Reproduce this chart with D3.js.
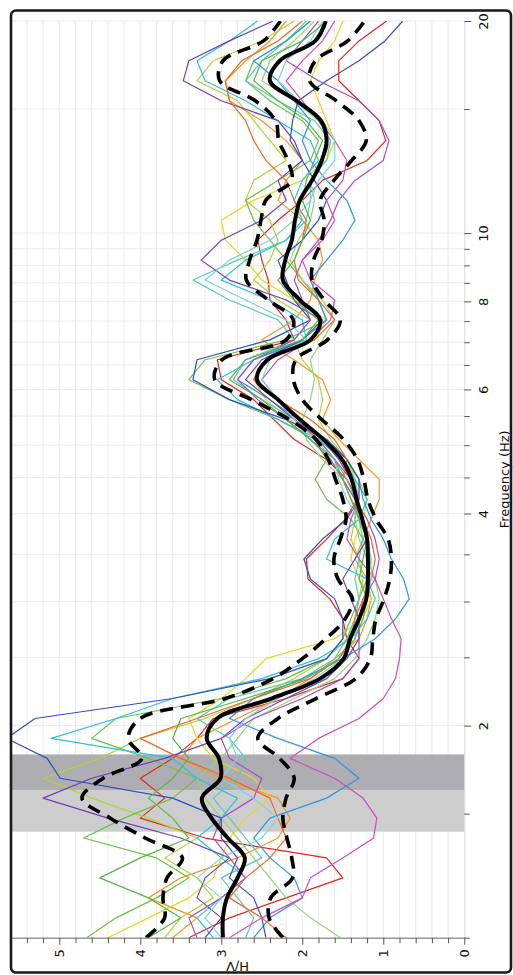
<!DOCTYPE html>
<html><head><meta charset="utf-8">
<script src="https://cdn.jsdelivr.net/npm/d3@7"></script>
<style>html,body{margin:0;padding:0;background:#fff;} svg{display:block;}</style>
</head><body>
<svg id="chart" width="513" height="975"></svg>
<script>
// ---------- DATA ----------
const freqs = [1.000,1.067,1.139,1.216,1.298,1.385,1.478,1.578,1.684,1.797,1.918,2.047,2.185,2.332,2.489,2.656,2.835,3.026,3.229,3.447,3.679,3.926,4.190,4.472,4.773,5.094,5.437,5.803,6.194,6.611,7.055,7.530,8.036,8.577,9.155,9.771,10.43,11.13,11.88,12.68,13.53,14.44,15.41,16.45,17.56,18.74,20.00];
const meanHV  = [2.98,2.98,2.93,2.80,2.71,2.92,3.12,3.24,3.01,3.03,3.18,3.05,2.38,1.78,1.49,1.41,1.30,1.21,1.19,1.19,1.20,1.26,1.33,1.39,1.51,1.74,2.03,2.30,2.56,2.43,1.90,1.78,2.03,2.24,2.21,2.13,2.09,2.03,1.88,1.76,1.70,1.77,2.07,2.40,2.28,1.84,1.71];
const upperHV = [3.93,3.70,3.72,3.67,3.48,3.94,4.37,4.72,4.46,3.98,4.15,4.00,2.95,2.36,2.00,1.71,1.47,1.38,1.56,1.61,1.53,1.46,1.50,1.59,1.68,1.83,2.16,2.63,3.08,2.99,2.20,2.11,2.42,2.69,2.65,2.56,2.51,2.45,2.13,2.18,2.29,2.33,2.58,3.02,2.98,2.48,2.27];
const lowerHV = [2.24,2.41,2.39,2.12,2.13,2.19,2.24,2.20,2.10,2.28,2.55,2.30,1.83,1.34,1.16,1.13,1.09,0.99,0.92,0.90,0.94,1.09,1.19,1.24,1.32,1.49,1.76,2.00,2.11,2.08,1.69,1.53,1.73,1.88,1.86,1.76,1.73,1.78,1.61,1.39,1.21,1.30,1.58,1.91,1.84,1.44,1.23];

const winRed     = [3.4,2.9,2.2,1.5,1.7,3.2,4.0,3.7,4.0,3.6,3.3,3.1,2.2,1.5,1.3,1.45,1.5,1.66,1.93,1.95,1.7,1.47,1.32,1.45,1.7,2.1,2.35,2.6,3.0,3.05,2.1,2.2,2.4,2.42,2.5,2.55,2.3,2.0,1.75,1.2,0.97,1.05,1.3,1.55,1.55,1.3,0.96];
const winOrange  = [3.6,3.3,3.9,3.5,2.8,2.3,2.15,2.3,3.0,3.5,3.3,2.8,2.3,1.9,1.6,1.3,1.2,1.15,1.2,1.35,1.25,1.15,1.05,1.05,1.3,1.55,1.75,1.65,1.75,2.1,2.5,2.1,1.9,1.85,1.75,1.8,2.0,2.3,2.2,2.0,2.2,2.5,2.9,2.95,2.7,2.4,2.2];
const winYellow  = [4.4,3.9,3.4,3.1,3.0,2.9,2.7,2.4,2.6,3.1,3.3,3.4,3.0,2.7,2.45,1.6,1.25,1.15,1.3,1.4,1.35,1.25,1.2,1.3,1.5,1.8,2.15,2.45,2.6,2.45,1.85,1.7,2.1,2.5,2.7,2.95,3.0,2.6,2.0,1.7,1.6,1.7,1.8,1.9,1.8,1.6,1.5];
const winYGreen  = [3.7,3.5,3.1,3.3,3.7,3.3,3.9,4.6,5.2,4.5,4.0,3.2,2.6,2.1,1.7,1.45,1.35,1.3,1.25,1.3,1.4,1.35,1.3,1.35,1.45,1.65,1.8,1.75,1.8,2.0,2.1,1.9,2.3,2.6,2.4,2.3,2.4,2.7,2.6,2.2,2.4,2.6,2.8,3.3,3.1,2.5,2.1];
const winGreen   = [4.66,4.3,3.8,3.4,3.8,4.7,4.2,3.6,3.3,3.9,4.6,4.3,3.0,2.2,1.7,1.5,1.4,1.3,1.2,1.15,1.25,1.4,1.7,1.84,1.7,1.85,2.3,2.9,3.4,3.2,2.2,1.7,1.8,2.0,2.2,2.4,2.6,2.7,2.3,1.9,1.8,2.0,2.4,2.7,2.6,2.2,1.9];
const winLGreen  = [1.53,1.9,2.2,2.4,2.6,2.8,3.0,3.2,3.3,3.0,2.8,2.6,2.1,1.6,1.35,1.2,1.1,1.05,1.1,1.2,1.3,1.35,1.35,1.5,1.75,1.95,2.0,1.9,1.85,1.9,1.75,1.6,1.75,2.0,2.15,2.05,1.9,1.85,1.9,1.75,1.65,1.8,2.1,2.5,2.4,2.1,1.85];
const winTeal    = [2.7,2.6,2.8,3.0,2.5,2.7,2.9,3.1,2.8,2.7,2.9,3.3,2.9,2.0,1.6,1.45,1.35,1.3,1.35,1.3,1.25,1.3,1.35,1.45,1.6,1.8,2.1,2.5,2.85,2.7,2.1,2.3,2.9,3.35,2.8,2.2,1.95,1.9,1.9,1.7,1.65,1.85,2.3,2.7,2.5,2.2,1.95];
const winCyan    = [3.1,3.3,3.0,2.7,3.0,3.3,3.0,2.8,3.3,3.6,5.1,4.3,3.6,2.5,1.8,1.4,1.2,1.1,1.2,1.7,1.6,1.3,1.2,1.35,1.5,1.8,2.3,2.8,3.05,2.6,1.95,2.0,2.4,3.0,2.7,2.2,2.0,2.1,2.0,1.8,1.9,2.3,2.7,3.2,3.3,2.9,2.55];
const winSky     = [2.6,2.4,2.0,2.1,2.4,2.6,2.4,1.7,1.3,1.6,2.3,2.9,2.6,2.0,1.5,1.1,0.85,0.68,0.75,0.9,1.0,1.15,1.25,1.3,1.45,1.7,2.05,2.4,2.8,2.6,2.0,1.7,1.8,1.9,1.7,1.5,1.35,1.45,1.7,1.9,2.0,1.9,2.1,2.3,2.6,2.2,1.9];
const winBlue    = [2.45,2.5,2.6,2.9,2.8,3.0,3.0,3.6,4.99,5.15,5.65,5.3,3.6,2.4,1.7,1.5,1.5,1.6,1.9,1.98,1.75,1.45,1.3,1.3,1.45,1.7,2.2,2.9,3.35,3.3,2.4,1.9,2.1,2.2,2.3,2.0,1.8,1.7,1.85,2.0,2.15,2.12,2.05,1.7,1.3,0.98,0.76];
const winPurple  = [3.2,3.0,3.3,3.2,2.9,3.5,4.4,5.2,4.6,3.7,3.0,2.7,2.2,1.7,1.45,1.3,1.3,1.4,1.5,1.35,1.2,1.25,1.35,1.4,1.55,1.75,2.1,2.4,2.7,2.5,2.0,1.75,2.2,2.9,3.25,3.0,2.5,2.2,2.3,2.0,2.1,2.3,3.0,3.47,3.4,2.9,2.36];
const winViolet  = [3.3,3.4,3.0,2.7,2.9,3.1,3.0,2.6,2.5,2.9,3.0,2.6,2.0,1.5,1.3,1.3,1.3,1.25,1.1,1.05,1.1,1.2,1.35,1.5,1.65,1.9,2.2,2.55,2.8,2.6,2.1,1.9,2.0,2.1,2.0,1.8,1.65,1.55,1.35,1.0,0.93,1.05,1.3,1.8,2.2,2.0,1.8];
const winMagenta = [2.9,2.5,2.0,1.9,1.5,1.12,1.08,1.25,1.6,2.15,1.8,1.3,1.0,0.85,0.8,0.78,0.9,1.0,1.1,1.3,1.45,1.4,1.3,1.4,1.6,1.8,2.1,2.3,2.5,2.3,1.9,1.65,1.6,1.9,2.0,1.75,1.6,1.7,1.5,1.45,1.6,1.8,2.0,2.2,2.0,1.75,1.6];
const winOrange2 = [2.2,2.5,2.9,2.7,2.4,2.2,2.3,2.4,2.9,3.5,4.0,3.3,2.6,1.9,1.55,1.4,1.35,1.25,1.15,1.1,1.15,1.25,1.4,1.5,1.45,1.6,1.9,2.3,2.6,2.45,1.85,1.6,1.8,2.05,2.1,2.0,1.95,2.1,2.2,2.45,2.6,2.7,2.9,2.95,2.75,2.3,2.0];
const winAqua    = [3.0,3.2,3.0,3.3,3.0,2.5,2.3,2.6,3.0,2.8,2.9,2.7,2.3,1.85,1.5,1.35,1.3,1.2,1.15,1.15,1.2,1.3,1.45,1.55,1.6,1.85,2.1,2.3,2.5,2.4,1.95,2.2,2.7,3.2,2.9,2.4,2.1,1.9,1.8,1.6,1.6,1.75,2.05,2.3,2.2,1.9,1.75];
const winGreen2  = [3.9,3.5,3.9,4.5,4.0,3.4,3.6,3.9,3.6,3.4,3.6,3.5,2.7,1.95,1.55,1.35,1.25,1.2,1.3,1.25,1.2,1.3,1.4,1.5,1.6,1.9,2.2,2.5,2.9,2.7,2.0,1.8,2.1,2.3,2.1,2.0,1.9,2.0,1.95,1.85,1.75,1.95,2.3,2.6,2.5,2.0,1.7];

// peak band (f0 and its range, Hz)
const peakLow = 1.414, peakF0 = 1.62, peakHigh = 1.82;

// axis ticks
const freqTicks = [1,1.5,2,2.5,3,3.5,4,4.5,5,5.5,6,6.5,7,7.5,8,8.5,9,9.5,10,15,20];
const freqLabels = [2,4,6,8,10,20];
const hvTicks = [0,0.2,0.4,0.6,0.8,1,1.2,1.4,1.6,1.8,2,2.2,2.4,2.6,2.8,3,3.2,3.4,3.6,3.8,4,4.2,4.4,4.6,4.8,5,5.2,5.4];
const hvLabels = [0,1,2,3,4,5];

// ---------- STYLES ----------
const winSeries = [winRed, winOrange, winYellow, winYGreen, winGreen, winLGreen, winTeal, winCyan, winSky, winBlue, winPurple, winViolet, winMagenta, winOrange2, winAqua, winGreen2];
const winColors = ["#e4261d","#f7941d","#e8d51c","#b2d33a","#6cc04a","#93d37c","#5ccbb2","#27c2e4","#2e95e4","#2f4fc0","#6b42b5","#a24fc9","#d04cb5","#f26522","#7fd3d8","#56b648"];

const X0 = 464.3, X1 = 10.7, Y0 = 937.7, Y1 = 21;
const x = d3.scaleLinear().domain([0, 5.6]).range([X0, X1]);
const y = d3.scaleLog().domain([1, 20]).range([Y0, Y1]);
const FONT = "DejaVu Sans, Verdana, sans-serif";

const svg = d3.select("#chart");
svg.append("defs").append("clipPath").attr("id","plotClip")
  .append("rect").attr("x", X1).attr("y", Y1).attr("width", X0 - X1).attr("height", Y0 - Y1);

// grid
const grid = svg.append("g");
grid.selectAll("line.gv").data(hvTicks.filter(d => d > 0)).join("line").attr("class","gv")
  .attr("x1", d => x(d)).attr("x2", d => x(d)).attr("y1", Y1).attr("y2", Y0)
  .attr("stroke", "#ebebeb").attr("stroke-width", 1);
grid.selectAll("line.gh").data(freqTicks.filter(d => d > 1)).join("line").attr("class","gh")
  .attr("x1", X1).attr("x2", X0).attr("y1", d => y(d)).attr("y2", d => y(d))
  .attr("stroke", "#ebebeb").attr("stroke-width", 1);

// peak band
svg.append("rect").attr("x", X1).attr("width", X0 - X1)
  .attr("y", y(peakHigh)).attr("height", y(peakF0) - y(peakHigh)).attr("fill", "#aeaeb2");
svg.append("rect").attr("x", X1).attr("width", X0 - X1)
  .attr("y", y(peakF0)).attr("height", y(peakLow) - y(peakF0)).attr("fill", "#cdcdcd");

// curves
const plot = svg.append("g").attr("clip-path", "url(#plotClip)");
const thin = d3.line().x(d => x(d[1])).y(d => y(d[0]));
const smooth = d3.line().x(d => x(d[1])).y(d => y(d[0])).curve(d3.curveCatmullRom.alpha(0.5));
const pairs = vals => freqs.map((f, i) => [f, vals[i]]);

winSeries.forEach((vals, i) => {
  plot.append("path").attr("d", thin(pairs(vals)))
    .attr("fill", "none").attr("stroke", winColors[i]).attr("stroke-width", 1.2)
    .attr("stroke-linejoin", "round");
});
[upperHV, lowerHV].forEach(vals => {
  plot.append("path").attr("d", smooth(pairs(vals)))
    .attr("fill", "none").attr("stroke", "#000").attr("stroke-width", 3.6)
    .attr("stroke-dasharray", "13,8");
});
plot.append("path").attr("d", smooth(pairs(meanHV)))
  .attr("fill", "none").attr("stroke", "#000").attr("stroke-width", 4);

// frequency axis (right side)
const fAxis = svg.append("g").attr("transform", `translate(${X0},0)`)
  .call(d3.axisRight(y).tickValues(freqTicks).tickSizeOuter(0)
    .tickFormat(d => freqLabels.includes(d) ? String(d) : ""));
fAxis.select(".domain").attr("stroke", "#d6d6d6");
fAxis.selectAll(".tick line").attr("stroke", "#555").attr("x2", d => freqLabels.includes(d) ? 7 : 5.5);
fAxis.selectAll(".tick text")
  .attr("x", null).attr("dy", "0.35em").attr("text-anchor", "middle")
  .attr("transform", "translate(19.4,0) rotate(-90)")
  .attr("font-family", FONT).attr("font-size", 13).attr("fill", "#111");

// H/V axis (bottom)
const hAxis = svg.append("g").attr("transform", `translate(0,${Y0})`)
  .call(d3.axisBottom(x).tickValues(hvTicks).tickSizeOuter(0)
    .tickFormat(d => hvLabels.some(v => Math.abs(v - d) < 1e-6) ? String(Math.round(d)) : ""));
hAxis.select(".domain").attr("stroke", "#666");
hAxis.selectAll(".tick line").attr("stroke", "#555")
  .attr("y2", d => hvLabels.some(v => Math.abs(v - d) < 1e-6) ? 7 : 5.5);
hAxis.selectAll(".tick text")
  .attr("y", null).attr("dy", "0.35em").attr("text-anchor", "middle")
  .attr("transform", "translate(0,15.6) rotate(-90)")
  .attr("font-family", FONT).attr("font-size", 13).attr("fill", "#111");

// axis titles
svg.append("text").attr("transform", `translate(504,${(Y0 + Y1) / 2}) rotate(-90)`)
  .attr("text-anchor", "middle").attr("dy", "0.35em")
  .attr("font-family", FONT).attr("font-size", 13).attr("fill", "#111")
  .text("Frequency (Hz)");
svg.append("text").attr("transform", `translate(${(X0 + X1) / 2},967) rotate(180)`)
  .attr("text-anchor", "middle").attr("dy", "0.35em")
  .attr("font-family", FONT).attr("font-size", 13).attr("fill", "#111")
  .text("H/V");

// frame
svg.append("rect").attr("x", 11).attr("y", 10.5).attr("width", 500).attr("height", 962)
  .attr("rx", 5).attr("fill", "none").attr("stroke", "#1a1a1a").attr("stroke-width", 2.6);
</script>
</body></html>
